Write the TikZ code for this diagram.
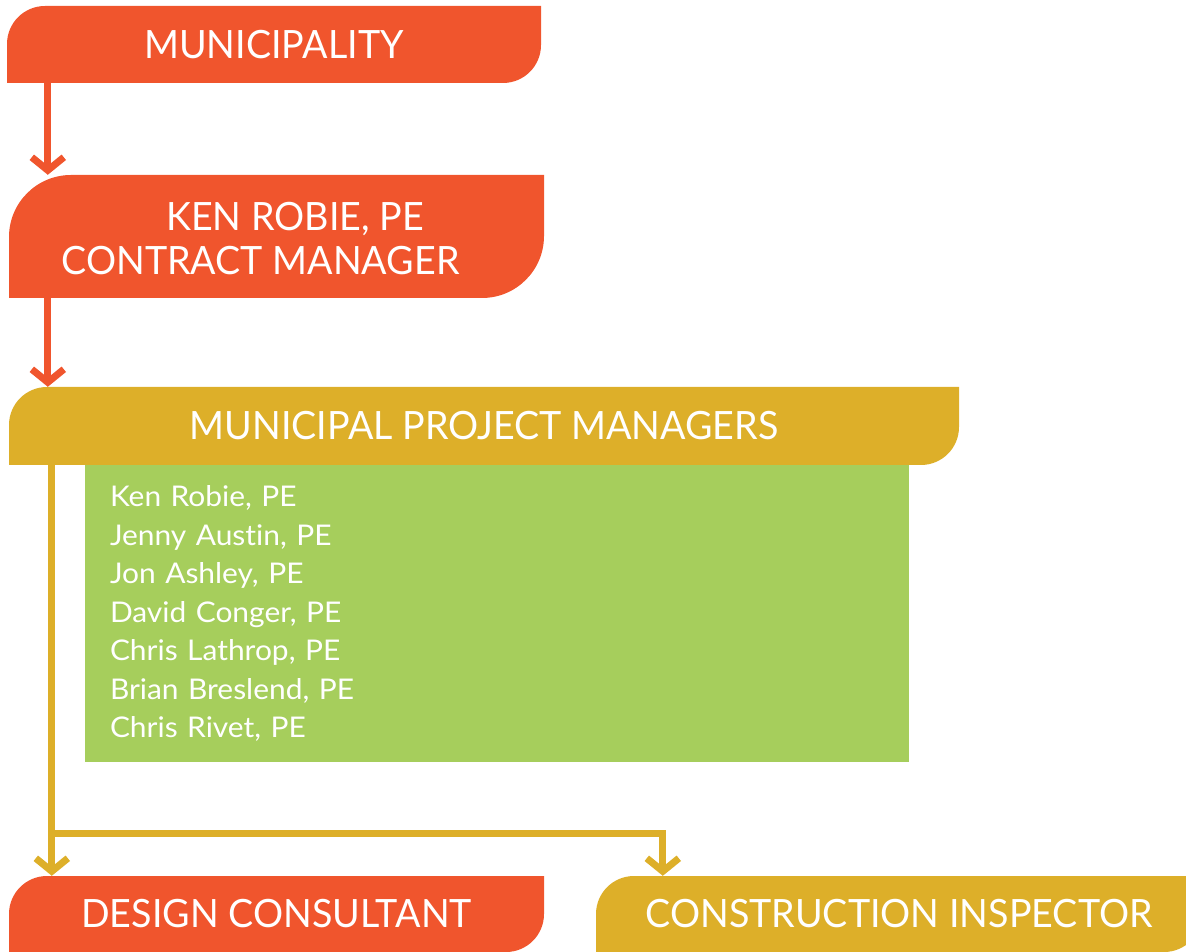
\documentclass[tikz,border=0pt]{standalone}
\usepackage{fontspec}
\setmainfont{Lato}
\newfontfamily\headfont[FakeStretch=0.965]{Lato}
\newfontfamily\listfont[FakeStretch=1.05,Ligatures=NoCommon]{Lato}
\usetikzlibrary{arrows.meta,calc}
\definecolor{orangeC}{HTML}{F0552D}
\definecolor{goldC}{HTML}{DDAF29}
\definecolor{greenC}{HTML}{A6CE5C}
\tikzset{
  tabbox/.style n args={2}{rectangle, inner sep=0pt, text=white, align=center,
    font=\headfont\fontsize{39}{44}\selectfont,
    path picture={\fill[#1] (path picture bounding box.south west)
      -- ([yshift=-#2]path picture bounding box.north west)
      arc[start angle=180,end angle=90,radius=#2]
      -- (path picture bounding box.north east)
      -- ([yshift=#2]path picture bounding box.south east)
      arc[start angle=0,end angle=-90,radius=#2] -- cycle;}},
  headtext/.style={text=white, inner sep=0pt, anchor=base, font=\headfont\fontsize{39}{44}\selectfont},
  listbox/.style={rectangle, fill=greenC, inner sep=0pt, text=white, align=left,
    font=\listfont\fontsize{28.5}{38.5}\selectfont},
  oarrow/.style={draw=orangeC, line width=7pt, -{Straight Barb[sharp,length=13pt,width=32pt]}},
  yarrow/.style={draw=goldC, line width=7pt, -{Straight Barb[sharp,length=13pt,width=32pt]}},
}
\begin{document}
\begin{tikzpicture}[x=1pt,y=1pt]
\useasboundingbox (0,0) rectangle (1186,951);
\clip (0,0) rectangle (1186,951);
% boxes
\node[tabbox={orangeC}{38pt}, minimum width=534pt, minimum height=77pt] (muni) at (274,906.5) {MUNICIPALITY};
\node[tabbox={orangeC}{62pt}, minimum width=535pt, minimum height=123pt] (ken) at (276.5,714.5) {};
\node[headtext] (kenname) at (295,720) {KEN ROBIE, PE};
\node[headtext] (kenrole) at (260.5,676) {CONTRACT MANAGER};
\node[listbox, minimum width=824pt, minimum height=297pt, text width=774pt] (list) at (497,337.5)
  {Ken Robie, PE\\Jenny Austin, PE\\Jon Ashley, PE\\David Conger, PE\\Chris Lathrop, PE\\Brian Breslend, PE\\Chris Rivet, PE};
\node[tabbox={goldC}{38pt}, minimum width=950pt, minimum height=78pt] (mpm) at (484,525) {MUNICIPAL PROJECT MANAGERS};
\node[tabbox={orangeC}{38pt}, minimum width=535pt, minimum height=76pt] (design) at (276.5,37) {DESIGN CONSULTANT};
\node[tabbox={goldC}{38pt}, minimum width=606pt, minimum height=76pt] (insp) at (899,37) {CONSTRUCTION INSPECTOR};
% connectors
\draw[oarrow] ([xshift=41pt]muni.south west) -- ([xshift=39pt]ken.north west);
\draw[oarrow] ([xshift=39pt]ken.south west) -- ([xshift=39pt]mpm.north west);
\coordinate (split) at (52,118);
\draw[yarrow] ([xshift=43pt]mpm.south west) -- ([xshift=43pt]design.north west);
\draw[yarrow] (split) -| ([xshift=67pt]insp.north west);
\end{tikzpicture}
\end{document}
